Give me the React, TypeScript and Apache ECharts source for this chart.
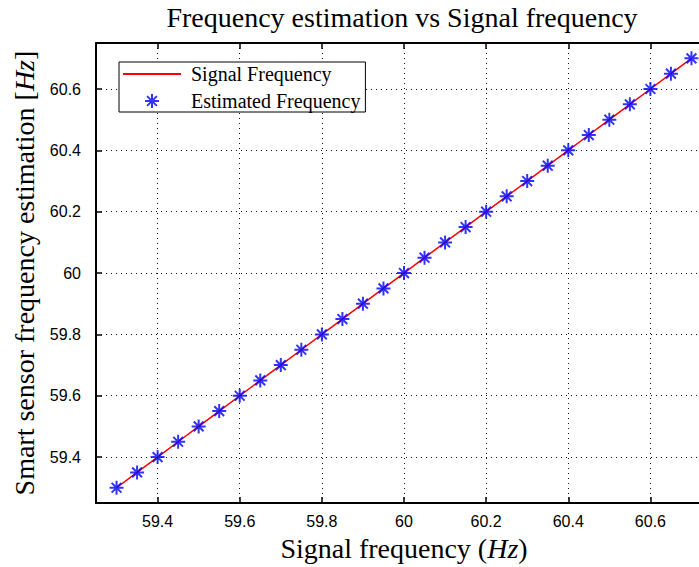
import React, { useEffect, useRef } from "react";
import * as echarts from "echarts";

const titleText = "Frequency estimation vs Signal frequency";
const xName = "Signal frequency ({i|Hz})";
const yName = "Smart sensor frequency estimation [{i|Hz}]";
const seriesNames = ["Signal Frequency", "Estimated Frequency"];

const signalFreq = [
  59.3, 59.35, 59.4, 59.45, 59.5, 59.55, 59.6, 59.65, 59.7, 59.75, 59.8, 59.85,
  59.9, 59.95, 60.0, 60.05, 60.1, 60.15, 60.2, 60.25, 60.3, 60.35, 60.4, 60.45,
  60.5, 60.55, 60.6, 60.65, 60.7,
];
const estimatedFreq = [
  59.3, 59.35, 59.4, 59.45, 59.5, 59.55, 59.6, 59.65, 59.7, 59.75, 59.8, 59.85,
  59.9, 59.95, 60.0, 60.05, 60.1, 60.15, 60.2, 60.25, 60.3, 60.35, 60.4, 60.45,
  60.5, 60.55, 60.6, 60.65, 60.7,
];
const axisMin = 59.25;
const axisMax = 60.75;

const SERIF = "'Liberation Serif', 'Times New Roman', serif";
const SANS = "'Liberation Sans', Arial, sans-serif";
const STAR = "path://M6 0V12M0 6H12M1.8 1.8L10.2 10.2M1.8 10.2L10.2 1.8";

export default function App() {
  const ref = useRef<HTMLDivElement>(null);
  useEffect(() => {
    if (!ref.current) return;
    const chart = echarts.init(ref.current, undefined, { renderer: "svg" });
    const grid = { left: 96, top: 43, width: 616, height: 462 };
    const gridLine = { show: true, lineStyle: { color: "#111", width: 1, type: [1, 4] as any } };
    const axisCommon = {
      type: "value" as const,
      min: axisMin,
      max: axisMax,
      splitNumber: 7,
      axisLine: { show: true, lineStyle: { color: "#000", width: 2 } },
      axisTick: { show: true, inside: true, length: 6, lineStyle: { color: "#000", width: 1.5 } },
      splitLine: gridLine,
    };
    chart.setOption({
      animation: false,
      backgroundColor: "#fff",
      title: {
        text: titleText,
        left: 402,
        top: 3,
        padding: 0,
        textAlign: "center",
        textStyle: { fontFamily: SERIF, fontSize: 28, fontWeight: "normal", color: "#000" },
      },
      legend: {
        left: 119,
        top: 62,
        orient: "vertical",
        itemWidth: 58,
        itemHeight: 14,
        itemGap: 7,
        padding: [2, 5, 1, 3],
        borderColor: "#000",
        borderWidth: 1,
        backgroundColor: "#fff",
        data: [
          { name: seriesNames[0], itemStyle: { opacity: 0 } },
          { name: seriesNames[1] },
        ],
        textStyle: {
          fontFamily: SERIF,
          fontSize: 20,
          color: "#000",
          padding: [0, 0, 0, 5],
        },
      },
      grid,
      xAxis: [
        {
          ...axisCommon,
          position: "bottom",
          name: xName,
          nameLocation: "middle",
          nameGap: 25,
          nameTextStyle: {
            fontFamily: SERIF,
            fontSize: 28,
            color: "#000",
            rich: { i: { fontFamily: SERIF, fontSize: 28, fontStyle: "italic", color: "#000" } },
          },
          axisLabel: {
            showMinLabel: false,
            showMaxLabel: false,
            margin: 10,
            fontFamily: SANS,
            fontSize: 16,
            color: "#000",
          },
        },
        {
          ...axisCommon,
          position: "top",
          axisLabel: { show: false },
          splitLine: { show: false },
        },
      ],
      yAxis: {
        ...axisCommon,
        name: yName,
        nameLocation: "middle",
        nameGap: 58,
        nameTextStyle: {
          fontFamily: SERIF,
          fontSize: 28,
          color: "#000",
          rich: { i: { fontFamily: SERIF, fontSize: 28, fontStyle: "italic", color: "#000" } },
        },
        axisLabel: {
          showMinLabel: false,
          showMaxLabel: false,
          margin: 15,
          fontFamily: SANS,
          fontSize: 16,
          color: "#000",
        },
      },
      series: [
        {
          name: seriesNames[0],
          type: "line",
          xAxisIndex: 0,
          symbol: "none",
          lineStyle: { color: "#ff0000", width: 1.5 },
          itemStyle: { color: "#ff0000" },
          data: signalFreq.map((v) => [v, v]),
          z: 2,
        },
        {
          name: seriesNames[1],
          type: "scatter",
          xAxisIndex: 0,
          symbol: STAR,
          symbolSize: 14,
          symbolKeepAspect: true,
          itemStyle: { color: "#0000ff", borderColor: "#0000ff", borderWidth: 2 },
          data: signalFreq.map((v, i) => [v, estimatedFreq[i]]),
          z: 3,
        },
      ],
    });
    return () => chart.dispose();
  }, []);
  return (
    <div style={{ position: "absolute", left: 0, top: 0, width: 699, height: 567, overflow: "hidden" }}>
      <div ref={ref} style={{ width: 720, height: 567 }} />
    </div>
  );
}
